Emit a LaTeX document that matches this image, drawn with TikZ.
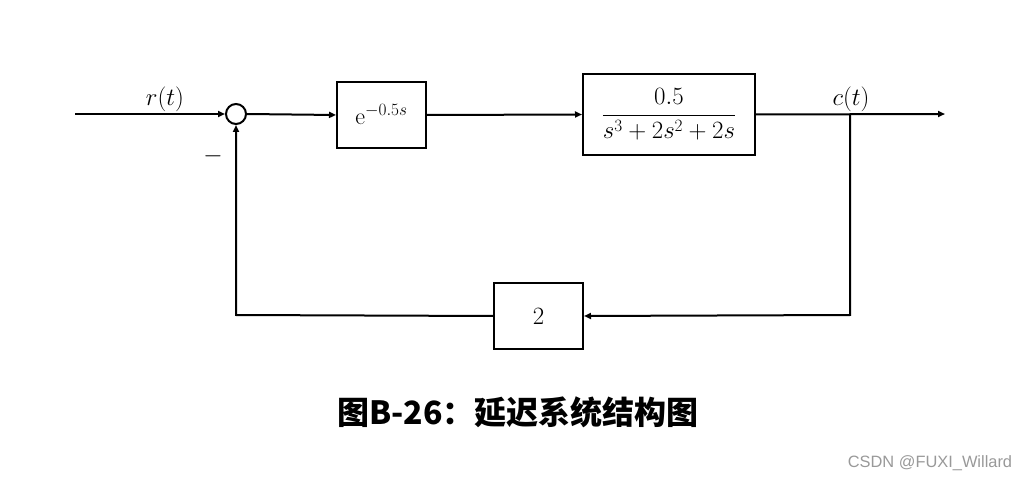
\documentclass[tikz,border=0pt]{standalone}
\usepackage{amsmath}
\usepackage{fontspec}
\newfontfamily\cjk{Noto Sans CJK SC}
\newfontfamily\wm{Liberation Sans}
\usetikzlibrary{arrows.meta}
\tikzset{
  wire/.style={line width=2pt},
  arr/.style={wire,-{Triangle[length=7pt,width=6pt]}},
  blk/.style={draw,line width=2pt,inner sep=0pt,font=\fontsize{24}{28}\selectfont},
  lbl/.style={font=\fontsize{24}{28}\selectfont,inner sep=0pt}
}
\begin{document}
\begin{tikzpicture}[x=1pt,y=-1pt]
\useasboundingbox (0,0) rectangle (1026,481);
\coordinate (in) at (75,114);
\node[draw,circle,line width=2pt,minimum size=20pt,inner sep=0pt] (sum) at (236,114) {};
\node[blk,minimum width=89pt,minimum height=66pt] (delay) at (381.5,115) {$\mathrm{e}^{-0.5s}$};
\node[blk,minimum width=172pt,minimum height=81pt] (plant) at (669,114.5) {$\dfrac{0.5}{s^3+2s^2+2s}$};
\coordinate (out) at (945,114);
\coordinate (br) at (850,114);
\coordinate (brd) at (850,315);
\node[blk,minimum width=89pt,minimum height=66pt] (fb) at (538.5,316) {$2$};
\coordinate (fl) at (236,315);
\draw[arr] (in) -- (sum.west);
\draw[arr] (sum.east) -- (delay.west);
\draw[arr] (delay.east) -- (plant.west);
\draw[arr] (plant.east) -- (out);
\draw[arr] (br) -- (brd) -- (fb.east);
\draw[arr] (fb.west) -- (fl) -- (sum.south);
\node[lbl] (r) at (165,99) {$r(t)$};
\node[lbl] (c) at (851,99) {$c(t)$};
\node[lbl] (minus) at (213,156) {$-$};
\node[inner sep=0pt,font=\cjk\bfseries\fontsize{32}{38}\selectfont] (title) at (518,412) {图B-26：延迟系统结构图};
\node[inner sep=0pt,text=black!40,font=\wm\fontsize{16.4}{19}\selectfont] (wmk) at (930,463) {CSDN @FUXI\_Willard};
\end{tikzpicture}
\end{document}
